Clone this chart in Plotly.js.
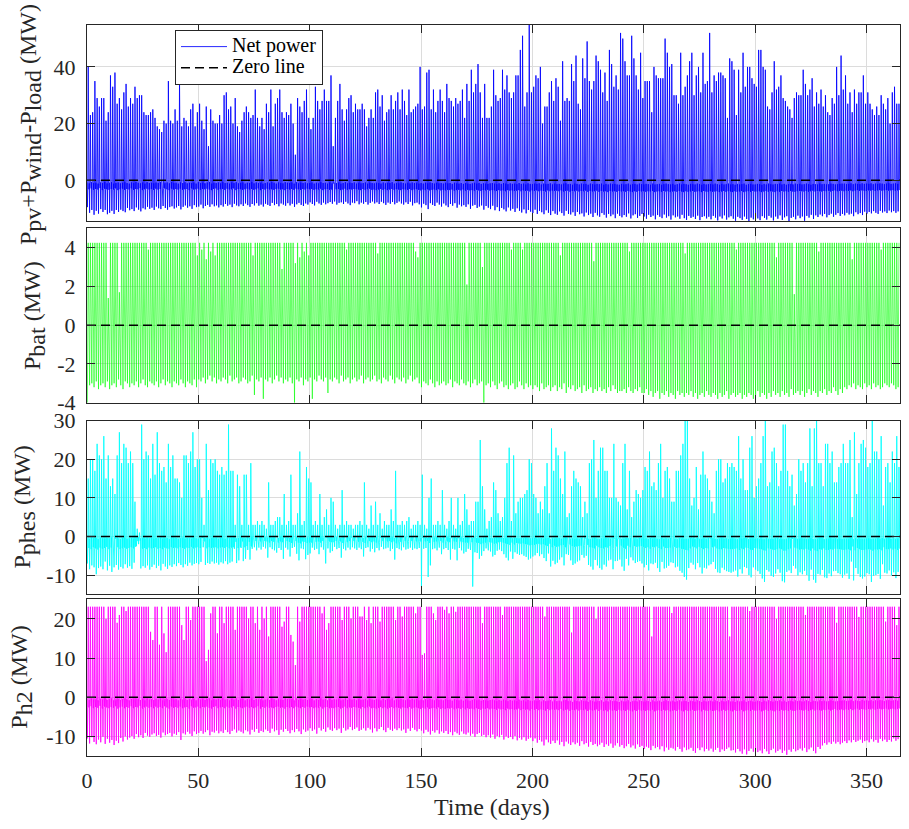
<!DOCTYPE html>
<html>
<head>
<meta charset="utf-8">
<script src="https://cdn.plot.ly/plotly-3.0.1.min.js"></script>
<style>
  html, body { margin: 0; padding: 0; background: #ffffff; }
  #chart { width: 909px; height: 829px; }
</style>
</head>
<body>
<div id="chart"></div>
<script>
// ---------- Data (one value per day, days 0..364) ----------
// Net power P_pv + P_wind - P_load (MW): daily peak, daily trough, night band upper / lower level
const netPeak = [
  40,23,24,35,29,26,29,29,21,24,
  37,33,38,27,29,25,31,34,26,29,
  27,33,29,30,30,24,23,23,24,25,
  22,19,18,17,21,20,35,21,20,25,
  21,35,19,22,21,19,25,27,19,24,
  27,21,18,26,12,25,21,20,20,23,
  20,30,31,25,26,20,29,19,17,21,
  24,26,24,22,23,32,22,19,22,18,
  27,24,32,19,27,29,32,24,22,24,
  23,27,20,9,29,26,24,28,32,22,
  18,22,33,28,25,28,32,28,28,37,
  12,22,28,34,25,21,25,29,30,24,
  27,25,25,27,25,19,22,25,22,31,
  32,26,30,21,24,25,30,25,28,31,
  25,32,28,23,32,24,25,26,27,40,
  25,26,38,39,25,32,24,28,32,28,
  24,34,29,28,26,29,27,28,32,22,
  34,28,39,31,34,41,31,22,34,22,
  22,26,39,30,28,29,39,32,37,31,
  29,31,37,37,46,51,26,31,55,31,
  33,37,36,40,20,26,26,31,35,28,
  36,33,21,42,28,29,28,41,35,44,
  27,25,43,36,49,35,32,35,44,42,
  39,31,38,28,46,41,33,37,32,52,
  50,42,37,37,51,43,37,32,45,29,
  35,35,35,24,40,37,36,36,36,50,
  45,40,41,30,30,27,45,30,33,37,
  42,45,30,37,40,31,45,34,35,52,
  31,37,35,38,38,37,36,22,43,42,
  39,23,39,31,45,33,40,40,36,34,
  33,46,46,40,39,26,25,31,42,32,
  33,37,29,28,26,25,22,29,31,30,
  30,39,34,30,32,36,26,31,27,32,
  26,30,24,23,29,27,40,30,44,32,
  37,27,31,24,32,27,31,31,37,27,
  31,27,25,23,26,23,30,27,25,29,
  20,31,33,27,27
];
const netTrough = [
  -9.5,-11.5,-10.5,-12.2,-10.8,-11.8,-10.2,-11.2,-10.5,-12,
  -11.5,-10.8,-11.9,-10.5,-11.2,-10.4,-10.9,-11.3,-9.8,-10.6,
  -10.2,-10.9,-9.6,-10.4,-11,-9.9,-10.3,-9.4,-10.1,-9.7,
  -10.5,-9.3,-9.9,-10.2,-9.1,-9.8,-10.4,-9.5,-9.2,-10,
  -9.6,-9.1,-10.3,-9.4,-8.9,-9.7,-9.2,-10.1,-8.8,-9.5,
  -9.3,-8.6,-9.9,-9.1,-8.7,-9.4,-8.5,-9.2,-8.9,-9.6,
  -8.8,-9.3,-8.4,-9,-8.6,-9.5,-8.3,-8.9,-9.2,-8.5,
  -9.1,-8.2,-8.8,-9.4,-8.4,-8.9,-8.1,-9,-8.6,-9.3,
  -8.3,-8.7,-9.1,-8,-8.8,-8.4,-9.2,-8.2,-8.6,-9,
  -8.1,-8.9,-8.3,-9.4,-8.5,-8,-8.7,-9.1,-8.2,-8.6,
  -7.8,-8.4,-8.9,-7.6,-8.2,-8.7,-7.9,-8.5,-8.1,-7.7,
  -8.3,-7.5,-8.6,-8,-7.8,-8.4,-7.6,-8.2,-8.8,-7.9,
  -8.1,-7.4,-8.5,-7.9,-8.3,-7.7,-8.6,-8,-7.5,-8.2,
  -7.8,-8.4,-7.6,-8.1,-8.7,-7.9,-8.3,-7.7,-8.5,-8,
  -7.5,-8.2,-8.6,-7.8,-8.4,-7.6,-8.9,-8.1,-7.9,-8.5,
  -9.6,-8.3,-8.8,-10.2,-8.1,-8.7,-9.1,-7.9,-8.6,-9.3,
  -8.2,-8.9,-9.5,-8.4,-9,-8.1,-9.7,-8.6,-9.2,-8.8,
  -9.4,-8.5,-10.1,-9,-8.7,-9.8,-9.3,-8.9,-10.4,-9.1,
  -9.7,-10.2,-9,-10.6,-9.5,-10.9,-9.8,-10.3,-11,-9.6,
  -10.7,-10.1,-11.2,-9.9,-10.8,-11.4,-10.3,-11.7,-10.5,-11.1,
  -11.6,-10.4,-11.9,-10.8,-11.3,-12,-10.6,-11.5,-12.3,-10.9,
  -11.8,-12.2,-11,-11.6,-12.5,-10.8,-11.9,-12.1,-11.3,-12.6,
  -11.2,-12,-11.7,-12.8,-11.4,-12.3,-11.8,-13,-11.5,-12.4,
  -12.9,-11.6,-12.2,-13.2,-11.9,-12.7,-12.1,-13.4,-11.8,-12.6,
  -13.1,-12.3,-12.9,-11.7,-13.5,-12.4,-12,-13.3,-12.6,-11.9,
  -12.8,-13.6,-12.2,-13,-12.5,-13.8,-12.3,-12.9,-13.4,-12.1,
  -13.2,-12.7,-13.9,-12.4,-13.1,-12.8,-13.6,-12.2,-13.4,-14,
  -12.6,-13.3,-12.9,-13.7,-12.5,-14.1,-13,-12.7,-13.5,-12.9,
  -13.8,-12.6,-13.2,-14.2,-12.8,-13.5,-12.4,-13.9,-13.1,-12.7,
  -13.6,-14.3,-12.9,-13.4,-14,-12.8,-13.7,-14.4,-13.2,-13.8,
  -12.9,-13.5,-14.1,-12.7,-13.3,-13.9,-12.6,-13.2,-14.2,-12.8,
  -13.6,-12.4,-14,-13.1,-12.7,-14.4,-13.3,-12.9,-13.8,-12.5,
  -13.4,-12.8,-14.3,-12.6,-13.2,-12.2,-13.7,-12.4,-13,-12.1,
  -12.7,-11.9,-13.1,-12.3,-11.8,-12.9,-12.2,-11.6,-12.6,-11.9,
  -12.4,-11.5,-12.1,-11.8,-12.7,-11.3,-12,-11.6,-12.3,-11.1,
  -11.8,-11.2,-11.7,-10.9,-11.5,-11.9,-10.8,-11.4,-11,-11.6,
  -10.7,-11.3,-10.9,-11.5,-11
];
const netHi = [
  -0.8,-1.1,-0.7,-1,-0.9,-1.2,-0.8,-1,-0.6,-1.1,
  -0.9,-0.7,-1.2,-1,-0.8,-1.1,-0.9,-0.7,-1,-1.2,
  -0.8,-1,-0.6,-0.9,-1.1,-0.8,-1.2,-0.7,-1,-0.9,
  -1.1,-0.8,-1,-0.7,-1.2,-0.9,-0.8,-1.1,-0.6,-1,
  -0.9,-1.2,-0.8,-1,-0.7,-1.1,-0.9,-1,-0.8,-1.2,
  -0.7,-1,-0.9,-1.1,-0.8,-0.6,-1.2,-0.9,-1,-0.8,
  -1.1,-0.7,-1,-0.9,-1.2,-0.8,-1,-0.7,-1.1,-0.9,
  -0.8,-1.2,-0.9,-1,-0.6,-1.1,-0.8,-1,-0.9,-1.2,
  -1,-0.8,-1.1,-0.7,-0.9,-1.2,-0.8,-1,-1.1,-0.7,
  -0.9,-1,-0.8,-1.2,-0.7,-1.1,-0.9,-1,-0.8,-1.1,
  -1,-0.8,-1.2,-0.9,-1.1,-0.7,-1,-0.9,-1.2,-0.8,
  -1.1,-0.9,-1,-0.8,-1.2,-1,-0.7,-1.1,-0.9,-1,
  -0.8,-1.2,-0.9,-1.1,-1,-0.8,-1.2,-0.9,-1,-1.1,
  -0.9,-1,-1.2,-0.8,-1.1,-0.9,-1,-0.7,-1.2,-1,
  -1.1,-0.8,-1,-1.2,-0.9,-1.1,-0.8,-1,-0.9,-1.2,
  -1,-1.2,-0.9,-1.1,-0.8,-1,-1.2,-0.9,-1.1,-1,
  -1.2,-0.9,-1.1,-1,-1.3,-0.9,-1.1,-1.2,-1,-1.3,
  -1,-1.2,-1.3,-1.1,-0.9,-1.2,-1,-1.3,-1.1,-1.2,
  -1.3,-1.1,-1,-1.2,-1.4,-1.1,-1.3,-1,-1.2,-1.4,
  -1.1,-1.3,-1.2,-1.4,-1,-1.3,-1.2,-1.5,-1.1,-1.3,
  -1.4,-1.2,-1.3,-1.1,-1.5,-1.2,-1.4,-1.3,-1.1,-1.5,
  -1.2,-1.4,-1.3,-1.5,-1.2,-1.1,-1.4,-1.3,-1.6,-1.2,
  -1.3,-1.5,-1.2,-1.4,-1.3,-1.6,-1.2,-1.4,-1.5,-1.3,
  -1.4,-1.2,-1.6,-1.3,-1.5,-1.2,-1.4,-1.3,-1.5,-1.6,
  -1.3,-1.5,-1.4,-1.2,-1.6,-1.4,-1.3,-1.5,-1.2,-1.4,
  -1.5,-1.3,-1.4,-1.6,-1.2,-1.5,-1.4,-1.3,-1.6,-1.4,
  -1.2,-1.4,-1.5,-1.3,-1.6,-1.4,-1.2,-1.5,-1.3,-1.4,
  -1.6,-1.3,-1.4,-1.5,-1.2,-1.4,-1.6,-1.3,-1.5,-1.4,
  -1.3,-1.5,-1.2,-1.4,-1.6,-1.3,-1.5,-1.4,-1.2,-1.5,
  -1.4,-1.6,-1.3,-1.5,-1.4,-1.2,-1.6,-1.4,-1.3,-1.5,
  -1.5,-1.3,-1.4,-1.6,-1.3,-1.5,-1.2,-1.4,-1.5,-1.3,
  -1.4,-1.2,-1.5,-1.3,-1.6,-1.4,-1.3,-1.5,-1.2,-1.4,
  -1.3,-1.5,-1.4,-1.2,-1.4,-1.6,-1.3,-1.4,-1.5,-1.2,
  -1.4,-1.3,-1.5,-1.4,-1.2,-1.3,-1.5,-1.4,-1.3,-1.2,
  -1.2,-1.4,-1.3,-1.1,-1.4,-1.2,-1.3,-1.4,-1.1,-1.3,
  -1.2,-1.3,-1.1,-1.4,-1.2,-1.3,-1.1,-1.2,-1.4,-1.2,
  -1.1,-1.3,-1.2,-1.1,-1.3
];
const netLo = [
  -3.2,-2.9,-3.4,-3.1,-3.3,-2.8,-3.5,-3,-3.2,-3.4,
  -3.1,-3.3,-2.9,-3.5,-3.2,-3,-3.4,-3.1,-3.3,-2.9,
  -3.4,-3.1,-3.2,-2.8,-3.5,-3.2,-3,-3.3,-3.1,-3.4,
  -3,-3.3,-3.1,-3.4,-2.9,-3.2,-3.5,-3,-3.3,-3.1,
  -3.3,-3,-3.4,-3.2,-3.1,-3.5,-2.9,-3.3,-3.2,-3,
  -3.4,-3.1,-3.2,-3,-3.3,-3.5,-3.1,-2.9,-3.4,-3.2,
  -3.1,-3.4,-3,-3.3,-3.2,-2.9,-3.5,-3.1,-3.2,-3.4,
  -3.2,-3,-3.3,-3.1,-3.4,-3.2,-2.9,-3.5,-3.1,-3.3,
  -3,-3.3,-3.2,-3.4,-3.1,-3,-3.3,-3.2,-3.5,-3.1,
  -3.3,-3.1,-3.4,-3,-3.2,-3.4,-3.1,-3.3,-3,-3.2,
  -3.1,-3.4,-3.2,-3.3,-3,-3.5,-3.2,-3.1,-3.4,-3.3,
  -3.4,-3.2,-3.1,-3.5,-3.3,-3,-3.4,-3.2,-3.3,-3.1,
  -3.2,-3.3,-3.5,-3.1,-3.4,-3.2,-3,-3.4,-3.3,-3.5,
  -3.3,-3.1,-3.4,-3.2,-3.5,-3.3,-3.1,-3.4,-3.2,-3.3,
  -3.5,-3.2,-3.3,-3.4,-3.1,-3.5,-3.3,-3.2,-3.4,-3.6,
  -3.3,-3.5,-3.2,-3.6,-3.4,-3.3,-3.5,-3.2,-3.6,-3.4,
  -3.6,-3.4,-3.5,-3.3,-3.7,-3.5,-3.4,-3.6,-3.3,-3.7,
  -3.4,-3.6,-3.5,-3.7,-3.4,-3.6,-3.8,-3.5,-3.6,-3.4,
  -3.7,-3.5,-3.6,-3.8,-3.5,-3.7,-3.6,-3.9,-3.5,-3.7,
  -3.6,-3.8,-3.7,-3.5,-3.9,-3.6,-3.8,-3.7,-4,-3.6,
  -3.8,-3.6,-3.9,-3.7,-3.8,-4,-3.6,-3.9,-3.7,-3.8,
  -3.7,-3.9,-3.6,-4,-3.8,-3.7,-4.1,-3.8,-3.9,-3.7,
  -4,-3.8,-3.9,-3.7,-4.1,-3.8,-4,-3.9,-3.7,-4.1,
  -3.8,-4,-3.9,-4.2,-3.8,-4,-3.9,-4.1,-3.8,-4,
  -3.9,-4.1,-3.8,-4,-4.2,-3.9,-4.1,-3.8,-4,-3.9,
  -4.1,-3.9,-4,-3.8,-4.2,-4,-3.9,-4.1,-3.8,-4,
  -3.9,-4.2,-4,-3.9,-4.1,-3.8,-4,-4.2,-3.9,-4.1,
  -4,-3.8,-4.1,-4,-3.9,-4.2,-3.8,-4,-4.1,-3.9,
  -4.1,-4,-3.9,-4.2,-4,-3.8,-4.1,-3.9,-4,-4.2,
  -3.9,-4.1,-4,-3.8,-4.2,-4,-3.9,-4.1,-3.8,-4,
  -4,-3.9,-4.2,-4,-3.8,-4.1,-3.9,-4,-4.2,-3.9,
  -4.1,-3.8,-4,-3.9,-4.1,-3.8,-4,-4.1,-3.9,-3.8,
  -3.9,-4,-3.8,-4.1,-3.9,-3.7,-4,-3.8,-3.9,-4,
  -3.8,-3.9,-3.7,-4,-3.8,-3.6,-3.9,-3.8,-3.7,-3.9,
  -3.7,-3.8,-3.6,-3.9,-3.7,-3.5,-3.8,-3.6,-3.7,-3.8,
  -3.6,-3.7,-3.5,-3.8,-3.6,-3.5,-3.7,-3.6,-3.5,-3.7,
  -3.6,-3.5,-3.7,-3.6,-3.5
];

// Battery power P_bat (MW): daily charging peak and discharging trough
const batPeak = [
  4.25,4.25,4.25,4.25,4.25,4.25,4.25,4.25,4.25,1.4,
  4.25,4.25,4.25,4.25,1.7,4.25,4.25,4.25,4.25,4.25,
  4.25,4.25,4.25,4.25,4.25,4.25,4.25,3.9,4.25,4.25,
  4.25,4.25,4.25,4.25,4.25,4.25,4.25,4.25,4.25,4.25,
  4.25,4.25,4.25,4.25,4.25,4.25,4.25,4.25,4.25,3.6,
  4.25,3.9,4.25,3.4,4.25,3.8,4.25,3.6,4.25,4.25,
  4.25,4.25,4.25,4.25,4.25,4.25,4.25,4.25,4.25,4.25,
  4.25,4.25,4.25,4.25,3.6,4.25,4.25,4.25,4.25,4.25,
  4.25,4.25,4.25,4.25,4.25,4.25,4.25,2.9,4.25,4.25,
  4.25,4.25,4.25,3.2,4.25,3.5,4.25,3.8,4.25,3.6,
  4.25,4.25,4.25,4.25,4.25,4.25,4.25,4.25,4.25,4.25,
  4.25,4.25,4.25,4.25,4.25,4.25,3.9,4.25,4.25,4.25,
  4.25,4.25,4.25,4.25,4.25,4.25,4.25,4.25,4.25,4.25,
  3.7,4.25,4.25,4.25,4.25,4.25,4.25,4.25,4.25,4.25,
  4.25,4.25,4.25,4.25,4.25,4.25,4.25,3.8,3.5,4.25,
  4.25,4.25,4.25,4.25,4.25,4.25,4.25,4.25,4.25,4.25,
  4.25,4.25,4.25,4.25,4.25,4.25,4.25,4.25,4.25,4.25,
  2.1,4.25,4.25,4.25,4.25,4.25,4.25,3.0,4.25,4.25,
  4.25,4.25,4.25,4.25,4.25,4.25,4.25,4.25,4.25,4.25,
  3.9,4.25,4.25,4.25,4.25,3.9,4.25,4.25,4.25,4.25,
  4.25,4.25,4.25,4.25,4.25,4.25,4.25,4.25,4.25,4.25,
  4.25,4.25,3.6,4.25,4.25,4.25,4.25,4.25,4.25,4.25,
  4.25,4.25,4.25,4.25,4.25,4.25,4.25,3.3,4.25,4.25,
  4.25,4.25,4.25,4.25,4.25,4.25,4.25,4.25,4.25,4.25,
  4.25,4.25,4.25,3.8,4.25,4.25,4.25,4.25,4.25,4.25,
  4.25,4.25,4.25,4.25,4.25,4.25,4.25,4.25,4.25,4.25,
  4.25,4.25,4.25,4.25,4.25,4.25,4.25,4.25,3.7,4.25,
  4.25,4.25,4.25,4.25,4.25,4.25,4.25,4.25,4.25,4.25,
  4.25,4.25,4.25,4.25,4.25,4.25,4.25,4.25,4.25,4.25,
  4.25,3.9,4.25,4.25,4.25,4.25,4.25,4.25,4.25,4.25,
  4.25,4.25,4.25,4.25,4.25,4.25,4.25,4.25,4.25,3.5,
  4.25,4.25,4.25,4.25,4.25,4.25,4.25,1.6,4.25,4.25,
  4.25,4.25,4.25,4.25,4.25,4.25,4.25,4.25,3.8,4.25,
  4.25,4.25,4.25,4.25,4.25,4.25,4.25,4.25,4.25,4.25,
  4.25,4.25,4.25,3.4,4.25,4.25,4.25,4.25,4.25,4.25,
  4.25,4.25,4.25,4.25,4.25,4.25,3.9,4.25,4.25,4.25,
  4.25,4.25,4.25,4.25,4.25
];
const batTrough = [
  -4,-3.1,-3,-3.2,-2.9,-3.3,-3.1,-3,-3.2,-2.9,
  -3.3,-3.1,-3,-3.2,-2.8,-3.1,-3.3,-2.9,-3,-3.2,
  -3,-3.1,-2.9,-3.2,-3,-2.8,-3.1,-3.2,-2.9,-3,
  -3.1,-2.9,-3.2,-3,-2.8,-3.1,-2.9,-3,-3.2,-2.9,
  -3,-3.1,-2.8,-3,-3.2,-2.9,-3,-3.1,-2.8,-3.2,
  -2.8,-2.9,-2.7,-3,-2.8,-2.6,-2.9,-2.7,-3,-2.8,
  -2.9,-2.7,-2.8,-3,-2.6,-2.9,-2.8,-2.7,-3,-2.9,
  -2.7,-2.8,-3,-2.9,-2.6,-3.6,-2.8,-2.9,-2.7,-3.8,
  -2.8,-2.9,-2.7,-3,-2.8,-2.6,-2.9,-2.7,-3,-2.8,
  -2.9,-2.7,-3,-4,-2.8,-2.9,-2.7,-3.1,-2.8,-2.9,
  -2.7,-3.8,-2.8,-2.9,-2.6,-2.8,-2.9,-2.7,-3.5,-2.8,
  -2.9,-2.7,-2.8,-3,-2.6,-2.9,-2.8,-2.7,-3,-2.8,
  -2.7,-2.9,-2.8,-2.6,-3,-2.8,-2.7,-2.9,-2.8,-2.6,
  -2.9,-2.8,-3,-2.7,-2.8,-2.9,-2.6,-2.8,-3,-2.7,
  -2.8,-2.9,-2.7,-3,-2.8,-2.6,-2.9,-2.8,-2.7,-3,
  -3.2,-2.9,-3,-3.1,-2.8,-3,-3.2,-2.9,-3.1,-3,
  -2.9,-3.1,-3,-2.8,-3.2,-2.9,-3,-3.1,-2.8,-3,
  -3.1,-2.9,-3.2,-3,-2.8,-3.1,-3,-2.9,-4,-3.1,
  -3,-3.2,-2.9,-3.1,-3.3,-3,-2.9,-3.2,-3.1,-3.3,
  -3.1,-3,-3.3,-3.2,-2.9,-3.1,-3.3,-3,-3.2,-3.1,
  -3.3,-3.1,-3.2,-3.4,-3,-3.3,-3.2,-3.1,-3.4,-3.2,
  -3.1,-3.4,-3.2,-3.3,-3,-3.5,-3.2,-3.3,-3.1,-3.4,
  -3.3,-3.2,-3.5,-3.1,-3.4,-3.3,-3.2,-3.5,-3.3,-3.4,
  -3.2,-3.4,-3.3,-3.5,-3.2,-3.4,-3.1,-3.3,-3.5,-3.4,
  -3.4,-3.3,-3.5,-3.2,-3.4,-3.5,-3.3,-3.4,-3.2,-3.5,
  -3.5,-3.3,-3.6,-3.4,-3.7,-3.5,-3.4,-3.8,-3.5,-3.6,
  -3.4,-3.7,-3.5,-3.6,-3.8,-3.4,-3.6,-3.5,-3.7,-3.5,
  -3.6,-3.4,-3.7,-3.5,-3.8,-3.6,-3.5,-3.7,-3.4,-3.6,
  -3.7,-3.5,-3.6,-3.8,-3.5,-3.7,-3.6,-3.4,-3.8,-3.6,
  -3.5,-3.7,-3.6,-3.5,-3.8,-3.6,-3.7,-3.5,-3.6,-3.8,
  -3.6,-3.4,-3.7,-3.5,-3.6,-3.8,-3.5,-3.7,-3.4,-3.6,
  -3.5,-3.7,-3.4,-3.6,-3.5,-3.7,-3.3,-3.6,-3.5,-3.4,
  -3.6,-3.4,-3.7,-3.5,-3.3,-3.6,-3.4,-3.5,-3.7,-3.4,
  -3.5,-3.3,-3.6,-3.4,-3.5,-3.2,-3.4,-3.6,-3.3,-3.5,
  -3.2,-3.3,-3.1,-3.2,-3,-3.3,-3.1,-3.2,-3.3,-3,
  -3.2,-3.1,-3.3,-3,-3.2,-3.1,-3.3,-3.2,-3,-3.1,
  -3.2,-3,-3.1,-3.3,-3.2
];

// Pumped hydro power P_phes (MW): daily peak, trough, band upper / lower level
const phesPeak = [
  15,20,20,17,24,21,20,26,15,21,
  13,15,11,21,27,19,24,23,19,22,
  19,9,2,1,29,20,22,21,15,24,
  16,27,19,17,18,14,24,18,21,15,
  15,14,10,21,21,19,22,27,18,20,
  20,10,3,24,12,20,19,20,17,16,
  18,16,17,29,17,17,3,16,13,3,
  16,16,3,19,3,3,4,3,4,3,
  2,14,3,3,4,5,5,3,11,3,
  4,16,3,3,6,22,3,4,18,15,
  14,3,4,3,11,3,5,7,3,10,
  9,3,2,3,12,3,4,3,3,2,
  3,3,4,3,14,3,2,8,3,9,
  3,6,2,4,3,3,7,4,17,3,
  3,4,3,4,5,2,3,3,4,3,
  16,3,2,10,15,3,3,4,3,12,
  3,2,4,10,3,2,10,3,4,11,
  7,3,4,4,9,9,25,13,7,2,
  4,5,14,12,6,4,5,10,19,23,
  4,21,6,9,10,10,11,12,20,19,
  11,10,6,9,7,13,19,6,28,17,
  23,21,15,11,22,5,6,13,17,15,
  14,13,5,9,6,19,20,25,10,17,
  23,23,17,17,10,10,24,10,9,8,
  19,24,7,17,5,9,12,11,10,12,
  18,17,22,13,14,12,19,24,10,17,
  18,15,9,9,17,17,21,24,30,30,
  15,8,10,18,7,16,22,16,15,12,
  9,6,17,20,20,14,15,19,18,19,
  18,17,26,15,20,12,12,23,26,10,
  13,15,19,26,30,13,14,22,23,19,
  13,17,29,29,17,13,16,8,11,20,
  17,19,14,19,28,13,28,30,19,19,
  13,24,24,19,22,14,14,18,19,24,
  19,19,25,5,27,11,19,24,25,23,
  18,19,30,22,22,20,26,8,18,19,
  14,22,19,26,18
];
const phesTrough = [
  -7,-8.5,-7.5,-8,-9.8,-8.2,-7.8,-8.5,-6.5,-8.8,
  -7.6,-9.2,-8,-7.4,-8.6,-7.9,-8.3,-7.2,-8.1,-7.7,
  -8.4,-6.8,-2.5,-2,-8.3,-7.7,-8.1,-7.5,-8.6,-7.9,
  -7.3,-8.2,-7.6,-8.8,-7.1,-7.8,-8.4,-7.5,-7.9,-7.2,
  -7.7,-6.9,-7.4,-8,-7.2,-7.6,-6.8,-7.5,-7.1,-6.9,
  -7.2,-6.6,-2.8,-7.4,-6.9,-7.1,-6.5,-7,-6.8,-7.3,
  -6.7,-7,-6.4,-7.2,-6.8,-6.5,-3.2,-6.9,-6.2,-3,
  -6.4,-5.8,-3.5,-6,-3.2,-2.8,-3.6,-2.9,-3.4,-2.7,
  -3.1,-5.5,-2.8,-3.3,-3.6,-4.2,-3,-3.5,-5.8,-2.9,
  -3.4,-5.2,-3,-2.7,-4.5,-6.2,-3.1,-3.3,-5.9,-4.8,
  -4.4,-2.9,-3.5,-3.2,-4.6,-2.8,-3.4,-7,-3.1,-4.2,
  -3.8,-2.7,-3.3,-3,-5.5,-3.2,-3.6,-2.9,-3.4,-2.8,
  -3.1,-3.5,-2.9,-3.3,-5.2,-3,-2.8,-3.9,-3.2,-4.1,
  -3,-3.6,-2.7,-3.3,-3.1,-2.9,-3.8,-3.2,-6,-3,
  -3.3,-3.6,-2.8,-3.4,-3.2,-2.9,-3.5,-3.1,-3.3,-3,
  -13,-3.2,-3,-10.5,-7.5,-3.3,-3.1,-3.6,-2.9,-4.6,
  -3.3,-3,-3.5,-6,-3.2,-3.4,-6.2,-3,-3.6,-4.4,
  -4,-3.2,-3.5,-13,-4.1,-4.3,-5.8,-5,-3.8,-3.1,
  -3.6,-3.9,-5.2,-4.8,-3.7,-3.4,-3.8,-4.6,-5.5,-6.2,
  -3.9,-5.8,-4.1,-4.5,-4.8,-4.6,-5,-5.3,-6,-5.7,
  -5.2,-4.9,-4.3,-5.1,-4.6,-5.6,-6.4,-4.4,-7.8,-6.3,
  -7.2,-6.8,-6,-5.4,-7.5,-4.6,-4.8,-6.2,-7.4,-7,
  -6.5,-6.2,-4.8,-5.5,-5,-7.4,-7.8,-8.6,-6.1,-7.5,
  -8.2,-8.6,-7.3,-7.8,-6.2,-6,-8.5,-6.4,-6.3,-6,
  -7.8,-8.9,-5.8,-7.5,-5.4,-6.2,-6.9,-6.6,-6.4,-7,
  -8,-7.4,-8.8,-7,-7.2,-6.8,-8.2,-9.2,-6.6,-8.3,
  -8.1,-7.6,-6.7,-6.9,-8,-7.8,-8.9,-9.4,-10.5,-11.2,
  -8.2,-6.8,-7.3,-8.5,-6.9,-8,-9.6,-8.1,-8.3,-7.5,
  -7.2,-6.6,-8.4,-9.3,-9.5,-8.1,-8.6,-9,-9.2,-9.4,
  -9.1,-8.8,-10.4,-8.5,-9.6,-7.9,-8.2,-10,-10.6,-8,
  -8.6,-9,-9.7,-10.9,-11.8,-8.7,-9.1,-10.2,-10.5,-9.6,
  -8.5,-9.4,-11.6,-11.9,-9.2,-8.8,-9.5,-7.6,-8.3,-10.1,
  -9.3,-9.8,-8.9,-10,-11.5,-8.6,-11.2,-12,-9.7,-9.9,
  -8.7,-10.6,-10.8,-9.6,-10.3,-9,-8.9,-9.5,-9.8,-10.7,
  -9.9,-9.6,-11,-6.5,-11.4,-8.2,-9.7,-10.5,-10.9,-10.4,
  -9.5,-9.8,-11.8,-10.2,-10,-9.7,-11,-7.2,-9.4,-9.6,
  -8.8,-10.1,-9.3,-10.8,-9.2
];
const phesHi = [
  -0.4,-0.6,-0.3,-0.5,-0.4,-0.7,-0.3,-0.5,-0.6,-0.4,
  -0.5,-0.3,-0.6,-0.4,-0.5,-0.7,-0.4,-0.3,-0.6,-0.5,
  -0.4,-0.6,-0.2,-0.2,-0.5,-0.4,-0.6,-0.3,-0.5,-0.4,
  -0.6,-0.4,-0.5,-0.3,-0.6,-0.5,-0.4,-0.7,-0.3,-0.5,
  -0.4,-0.6,-0.5,-0.3,-0.6,-0.4,-0.5,-0.6,-0.3,-0.5,
  -0.6,-0.4,-0.2,-0.5,-0.3,-0.6,-0.4,-0.5,-0.3,-0.6,
  -0.4,-0.5,-0.6,-0.3,-0.5,-0.4,-0.2,-0.5,-0.4,-0.2,
  -0.4,-0.5,-0.2,-0.4,-0.2,-0.3,-0.2,-0.3,-0.2,-0.3,
  -0.2,-0.3,-0.2,-0.3,-0.2,-0.3,-0.4,-0.2,-0.3,-0.2,
  -0.3,-0.4,-0.2,-0.3,-0.2,-0.4,-0.3,-0.2,-0.4,-0.3,
  -0.3,-0.2,-0.3,-0.2,-0.3,-0.2,-0.3,-0.4,-0.2,-0.3,
  -0.3,-0.2,-0.2,-0.3,-0.4,-0.2,-0.3,-0.2,-0.3,-0.2,
  -0.2,-0.3,-0.2,-0.3,-0.4,-0.2,-0.3,-0.3,-0.2,-0.3,
  -0.2,-0.3,-0.2,-0.3,-0.2,-0.2,-0.3,-0.2,-0.4,-0.2,
  -0.3,-0.2,-0.3,-0.2,-0.3,-0.2,-0.2,-0.3,-0.2,-0.3,
  -0.4,-0.2,-0.3,-0.4,-0.3,-0.2,-0.3,-0.2,-0.3,-0.4,
  -0.2,-0.3,-0.2,-0.4,-0.3,-0.2,-0.4,-0.3,-0.2,-0.4,
  -0.3,-0.2,-0.3,-0.4,-0.3,-0.4,-0.5,-0.4,-0.3,-0.2,
  -0.3,-0.4,-0.5,-0.4,-0.3,-0.3,-0.4,-0.4,-0.5,-0.5,
  -0.3,-0.5,-0.4,-0.4,-0.5,-0.4,-0.5,-0.4,-0.5,-0.5,
  -0.5,-0.4,-0.6,-0.5,-0.4,-0.6,-0.5,-0.4,-0.7,-0.5,
  -0.6,-0.5,-0.4,-0.6,-0.5,-0.3,-0.4,-0.6,-0.5,-0.7,
  -0.5,-0.6,-0.4,-0.5,-0.4,-0.6,-0.7,-0.5,-0.4,-0.6,
  -0.7,-0.5,-0.6,-0.4,-0.5,-0.6,-0.5,-0.4,-0.6,-0.5,
  -0.6,-0.7,-0.4,-0.5,-0.4,-0.6,-0.5,-0.6,-0.4,-0.5,
  -0.6,-0.5,-0.7,-0.4,-0.6,-0.5,-0.6,-0.7,-0.4,-0.6,
  -0.5,-0.6,-0.4,-0.5,-0.6,-0.7,-0.5,-0.6,-0.7,-0.6,
  -0.6,-0.4,-0.5,-0.6,-0.4,-0.6,-0.7,-0.5,-0.6,-0.5,
  -0.4,-0.5,-0.6,-0.7,-0.6,-0.5,-0.6,-0.5,-0.7,-0.6,
  -0.5,-0.6,-0.7,-0.5,-0.6,-0.4,-0.5,-0.7,-0.6,-0.5,
  -0.6,-0.5,-0.6,-0.7,-0.7,-0.5,-0.6,-0.6,-0.7,-0.5,
  -0.5,-0.6,-0.7,-0.7,-0.6,-0.5,-0.6,-0.4,-0.5,-0.6,
  -0.6,-0.5,-0.6,-0.6,-0.7,-0.5,-0.7,-0.7,-0.6,-0.5,
  -0.5,-0.7,-0.6,-0.6,-0.5,-0.6,-0.5,-0.6,-0.6,-0.7,
  -0.6,-0.6,-0.7,-0.4,-0.7,-0.5,-0.6,-0.7,-0.6,-0.6,
  -0.6,-0.5,-0.7,-0.6,-0.6,-0.5,-0.7,-0.4,-0.6,-0.5,
  -0.5,-0.6,-0.5,-0.7,-0.6
];
const phesLo = [
  -3,-3.3,-2.8,-3.1,-3.4,-2.9,-3.2,-3,-2.7,-3.3,
  -2.9,-3.2,-3,-2.8,-3.3,-3.1,-2.9,-3.2,-3,-2.8,
  -3.1,-2.7,-1.2,-1.1,-3.2,-3,-3.3,-2.9,-3.1,-3,
  -2.8,-3.2,-3,-3.3,-2.9,-3.1,-3.2,-2.8,-3,-2.9,
  -3.1,-2.8,-3,-3.2,-2.9,-3,-2.7,-3.1,-2.9,-2.8,
  -3,-2.7,-1.3,-3.1,-2.8,-3,-2.9,-2.8,-3.1,-2.9,
  -2.8,-3,-2.7,-3.1,-2.9,-2.8,-1.4,-3,-2.7,-1.3,
  -2.8,-2.5,-1.4,-2.6,-1.3,-1.2,-1.5,-1.3,-1.4,-1.2,
  -1.3,-1.6,-1.2,-1.4,-1.5,-1.6,-1.3,-1.5,-1.8,-1.2,
  -1.4,-1.7,-1.3,-1.2,-1.6,-1.8,-1.3,-1.4,-1.7,-1.6,
  -1.6,-1.3,-1.4,-1.3,-1.6,-1.2,-1.5,-1.8,-1.3,-1.5,
  -1.5,-1.2,-1.4,-1.3,-1.7,-1.3,-1.5,-1.2,-1.4,-1.2,
  -1.3,-1.4,-1.2,-1.4,-1.7,-1.3,-1.2,-1.5,-1.3,-1.6,
  -1.3,-1.5,-1.2,-1.4,-1.3,-1.2,-1.5,-1.3,-1.8,-1.2,
  -1.4,-1.5,-1.2,-1.4,-1.3,-1.2,-1.4,-1.3,-1.4,-1.3,
  -1.8,-1.3,-1.2,-1.7,-1.8,-1.4,-1.3,-1.5,-1.2,-1.6,
  -1.4,-1.3,-1.5,-1.7,-1.3,-1.4,-1.7,-1.3,-1.5,-1.6,
  -1.6,-1.4,-1.5,-1.9,-1.6,-1.7,-2,-1.8,-1.6,-1.3,
  -1.5,-1.6,-1.9,-1.8,-1.5,-1.4,-1.6,-1.8,-2,-2.2,
  -1.6,-2.1,-1.7,-1.8,-1.9,-1.8,-2,-2.1,-2.3,-2.2,
  -2.2,-2,-1.9,-2.1,-2,-2.3,-2.5,-1.9,-2.8,-2.4,
  -2.7,-2.6,-2.3,-2.2,-2.8,-2,-2.1,-2.5,-2.7,-2.6,
  -2.5,-2.4,-2.1,-2.3,-2.2,-2.8,-2.9,-3.1,-2.4,-2.8,
  -3,-3.1,-2.8,-2.9,-2.5,-2.4,-3.1,-2.6,-2.5,-2.4,
  -2.9,-3.2,-2.4,-2.8,-2.3,-2.5,-2.7,-2.6,-2.5,-2.7,
  -3,-2.8,-3.2,-2.7,-2.8,-2.6,-3,-3.3,-2.6,-3,
  -3,-2.9,-2.6,-2.7,-3,-2.9,-3.2,-3.3,-3.5,-3.6,
  -3.1,-2.6,-2.8,-3.1,-2.7,-3,-3.3,-3,-3.1,-2.9,
  -2.8,-2.6,-3.1,-3.3,-3.3,-3,-3.1,-3.2,-3.3,-3.3,
  -3.2,-3.1,-3.5,-3.1,-3.3,-2.9,-3,-3.4,-3.5,-3,
  -3.1,-3.2,-3.3,-3.6,-3.7,-3.1,-3.2,-3.4,-3.5,-3.3,
  -3.1,-3.3,-3.7,-3.7,-3.3,-3.1,-3.3,-2.9,-3.1,-3.4,
  -3.3,-3.4,-3.2,-3.4,-3.7,-3.1,-3.6,-3.8,-3.3,-3.4,
  -3.1,-3.5,-3.5,-3.3,-3.4,-3.2,-3.2,-3.3,-3.4,-3.5,
  -3.4,-3.3,-3.6,-2.6,-3.6,-3,-3.3,-3.5,-3.5,-3.4,
  -3.3,-3.4,-3.7,-3.4,-3.4,-3.3,-3.6,-2.8,-3.3,-3.3,
  -3.1,-3.4,-3.2,-3.5,-3.2
];

// Hydrogen system power P_h2 (MW): daily peak, trough, band upper / lower level
const h2Peak = [
  23.1,23.1,23.1,23.1,23.1,23.1,23.1,23.1,20,23.1,
  23.1,23.1,23.1,19,21,23.1,23.1,22,23.1,23.1,
  23.1,23.1,23.1,23.1,23.1,23.1,23.1,23.1,16.7,14.6,
  23.1,23.1,13.4,23.1,16.3,11.5,23.1,23.1,23.1,23.1,
  23.1,23.1,18.4,14.6,23.1,23.1,19.7,23.1,23.1,23.1,
  23.1,23.1,23.1,9.2,12.1,21.4,23.1,23.1,16.3,23.1,
  23.1,18.9,23.1,23.1,23.1,23.1,17.2,23.1,23.1,23.1,
  23.1,23.1,20.1,23.1,23.1,18.9,23.1,17.2,23.1,20.1,
  23.1,15.5,23.1,23.1,23.1,23.1,23.1,18,19.3,23.1,
  23.1,15.9,14.2,8.2,23.1,19.3,23.1,23.1,23.1,23.1,
  23.1,23.1,23.1,23.1,23.1,21.4,23.1,17.2,18.9,23.1,
  23.1,23.1,23.1,23.1,19.7,23.1,23.1,23.1,20.1,23.1,
  23.1,23.1,20.6,20.6,23.1,19.7,23.1,18.9,23.1,23.1,
  23.1,19.3,23.1,23.1,23.1,23.1,23.1,23.1,19.7,23.1,
  23.1,20.6,23.1,23.1,23.1,23.1,23.1,21.4,23.1,23.1,
  10.8,11.2,23.1,23.1,23.1,21.4,19.7,23.1,23.1,23.1,
  22.3,23.1,21.4,23.1,23.1,21.8,23.1,23.1,23.1,23.1,
  23.1,23.1,23.1,23.1,23.1,23.1,23.1,18.9,23.1,23.1,
  23.1,23.1,23.1,23.1,23.1,23.1,21,23.1,23.1,23.1,
  23.1,23.1,23.1,23.1,23.1,23.1,23.1,23.1,23.1,23.1,
  23.1,23.1,23.1,23.1,23.1,20.6,23.1,23.1,23.1,23.1,
  23.1,23.1,23.1,23.1,23.1,23.1,23.1,16.5,23.1,23.1,
  23.1,23.1,23.1,23.1,23.1,23.1,23.1,23.1,20,23.1,
  23.1,23.1,23.1,23.1,23.1,23.1,23.1,23.1,23.1,23.1,
  23.1,23.1,23.1,23.1,23.1,23.1,23.1,23.1,23.1,23.1,
  23.1,23.1,23.1,15.5,23.1,23.1,23.1,23.1,23.1,23.1,
  23.1,23.1,21.5,23.1,23.1,23.1,23.1,23.1,23.1,23.1,
  23.1,23.1,23.1,23.1,23.1,23.1,23.1,23.1,23.1,23.1,
  23.1,23.1,23.1,23.1,23.1,23.1,23.1,23.1,15.5,23.1,
  23.1,23.1,23.1,23.1,23.1,23.1,23.1,22,23.1,23.1,
  23.1,23.1,23.1,23.1,23.1,23.1,23.1,23.1,23.1,20,
  23.1,23.1,23.1,23.1,23.1,23.1,23.1,23.1,23.1,23.1,
  23.1,23.1,21,23.1,23.1,23.1,23.1,23.1,23.1,23.1,
  23.1,23.1,23.1,23.1,23.1,23.1,19,23.1,23.1,23.1,
  23.1,23.1,23.1,23.1,23.1,23.1,20.5,23.1,23.1,23.1,
  23.1,23.1,23.1,23.1,23.1,23.1,23.1,23.1,19.3,23.1,
  23.1,23.1,23.1,18.4,23.1
];
const h2Trough = [
  -10.5,-11.8,-10.2,-11.4,-12,-10.8,-11.5,-10.1,-11.9,-10.6,
  -11.6,-10.9,-12.2,-11.1,-11.7,-10.4,-11.3,-10,-10.8,-10.3,
  -9.9,-10.6,-9.4,-10.2,-9.7,-10.4,-9.1,-9.8,-10.1,-9.5,
  -9.2,-9.9,-9.6,-10.3,-9,-9.7,-9.4,-9.1,-10,-9.3,
  -9.6,-8.9,-10.9,-9.2,-9.5,-8.8,-9.3,-9.9,-8.7,-9.4,
  -9.1,-8.6,-9.3,-8.9,-8.4,-9.7,-8.8,-9,-8.5,-9.2,
  -8.7,-9.1,-8.3,-8.9,-9.4,-8.6,-8.2,-9,-8.5,-8.8,
  -9.2,-8.4,-8.7,-9.5,-8.3,-8.8,-8.1,-9.1,-8.6,-8.9,
  -8.2,-8.6,-9.1,-8,-8.7,-8.4,-9.6,-8.3,-8.8,-8.1,
  -8.6,-9.2,-8.4,-8.9,-8.1,-8.7,-9.4,-8.2,-8.8,-8.5,
  -7.9,-8.6,-8.2,-9.3,-7.8,-8.5,-8.1,-8.8,-7.7,-8.3,
  -8.6,-7.9,-8.4,-8,-9.1,-7.8,-8.5,-8.2,-7.6,-8.4,
  -8.1,-7.7,-8.6,-8.3,-7.9,-8.5,-7.8,-8.2,-9,-7.9,
  -8.7,-8.1,-7.6,-8.4,-8.9,-7.8,-8.3,-8.6,-8,-8.4,
  -7.9,-8.5,-8.2,-9.1,-8,-8.6,-7.8,-8.3,-8.7,-8.1,
  -8.5,-9.2,-8.3,-8.8,-9.5,-8.6,-9,-8.4,-9.3,-8.7,
  -9.1,-8.6,-9.4,-8.9,-9.7,-8.8,-9.2,-9.6,-8.7,-9.3,
  -9.5,-9,-9.8,-9.3,-10.1,-9.4,-9.1,-9.9,-9.6,-10.2,
  -9.7,-10.3,-9.5,-10.6,-9.9,-10.2,-9.6,-10.8,-10,-10.4,
  -10.1,-10.7,-9.9,-11,-10.4,-10.8,-10.2,-11.1,-10.6,-10.3,
  -11.2,-10.5,-11.6,-10.9,-11.3,-12.3,-10.8,-11.5,-11.9,-11.1,
  -11.7,-11,-12.1,-11.4,-12.5,-11.3,-11.8,-12.2,-11.5,-12,
  -11.6,-12.4,-11.2,-12,-11.7,-12.6,-11.4,-12.2,-11.9,-12.5,
  -12.1,-11.6,-12.7,-12,-12.4,-11.8,-12.9,-12.3,-11.7,-12.6,
  -12.2,-13,-12.5,-11.9,-12.8,-12.3,-13.1,-12,-12.7,-12.4,
  -13.2,-12.6,-12.9,-13.5,-12.4,-13,-12.7,-13.3,-12.5,-13.8,
  -12.8,-13.4,-12.9,-13.1,-13.6,-12.7,-13.2,-13.9,-12.8,-13.5,
  -13.3,-12.9,-13.7,-14.2,-13,-13.5,-12.8,-13.8,-13.2,-13.6,
  -13.1,-13.9,-13.4,-12.9,-14,-13.3,-13.7,-13.2,-12.8,-13.6,
  -13.5,-14.1,-13.2,-13.8,-14.4,-13.3,-14.6,-13.7,-13.1,-13.9,
  -13.4,-14,-13.6,-14.3,-13.2,-13.8,-14.5,-13.5,-13.1,-14.1,
  -13.7,-13.3,-14.2,-13.6,-14.7,-13.4,-13.9,-13.2,-13.8,-13.5,
  -13.1,-13.6,-12.9,-14,-13.3,-12.8,-13.7,-14.3,-12.7,-13.2,
  -12.3,-11.7,-12.1,-11.5,-11.9,-11.3,-11.8,-11.4,-12,-11.6,
  -11.2,-11.7,-11,-11.5,-10.9,-11.4,-11.1,-10.8,-11.6,-11.2,
  -11,-11.5,-10.7,-11.3,-10.9,-11.6,-10.6,-11.2,-10.8,-11.4,
  -10.9,-11.3,-10.5,-11.1,-10.7
];
const h2Hi = [
  -0.4,-0.7,-0.3,-0.6,-0.5,-0.8,-0.4,-0.6,-0.3,-0.7,
  -0.5,-0.3,-0.8,-0.6,-0.4,-0.7,-0.5,-0.3,-0.6,-0.8,
  -0.4,-0.6,-0.3,-0.5,-0.7,-0.4,-0.8,-0.3,-0.6,-0.5,
  -0.7,-0.4,-0.6,-0.3,-0.8,-0.5,-0.4,-0.7,-0.3,-0.6,
  -0.5,-0.8,-0.4,-0.6,-0.3,-0.7,-0.5,-0.6,-0.4,-0.8,
  -0.3,-0.6,-0.5,-0.7,-0.4,-0.3,-0.8,-0.5,-0.6,-0.4,
  -0.7,-0.3,-0.6,-0.5,-0.8,-0.4,-0.6,-0.3,-0.7,-0.5,
  -0.4,-0.8,-0.5,-0.6,-0.3,-0.7,-0.4,-0.6,-0.5,-0.8,
  -0.6,-0.4,-0.7,-0.3,-0.5,-0.8,-0.4,-0.6,-0.7,-0.3,
  -0.5,-0.6,-0.4,-0.8,-0.3,-0.7,-0.5,-0.6,-0.4,-0.7,
  -0.6,-0.4,-0.8,-0.5,-0.7,-0.3,-0.6,-0.5,-0.8,-0.4,
  -0.7,-0.5,-0.6,-0.4,-0.8,-0.6,-0.3,-0.7,-0.5,-0.6,
  -0.4,-0.8,-0.5,-0.7,-0.6,-0.4,-0.8,-0.5,-0.6,-0.7,
  -0.5,-0.6,-0.8,-0.4,-0.7,-0.5,-0.6,-0.3,-0.8,-0.6,
  -0.7,-0.4,-0.6,-0.8,-0.5,-0.7,-0.4,-0.6,-0.5,-0.8,
  -0.6,-0.8,-0.5,-0.7,-0.4,-0.6,-0.8,-0.5,-0.7,-0.6,
  -0.8,-0.5,-0.7,-0.6,-0.9,-0.5,-0.7,-0.8,-0.6,-0.9,
  -0.6,-0.8,-0.9,-0.7,-0.5,-0.8,-0.6,-0.9,-0.7,-0.8,
  -0.9,-0.7,-0.6,-0.8,-1,-0.7,-0.9,-0.6,-0.8,-1,
  -0.7,-0.9,-0.8,-1,-0.6,-0.9,-0.8,-1.1,-0.7,-0.9,
  -1,-0.8,-0.9,-0.7,-1.1,-0.8,-1,-0.9,-0.7,-1.1,
  -0.8,-1,-0.9,-1.1,-0.8,-0.7,-1,-0.9,-1.2,-0.8,
  -0.9,-1.1,-0.8,-1,-0.9,-1.2,-0.8,-1,-1.1,-0.9,
  -1,-0.8,-1.2,-0.9,-1.1,-0.8,-1,-0.9,-1.1,-1.2,
  -0.9,-1.1,-1,-0.8,-1.2,-1,-0.9,-1.1,-0.8,-1,
  -1.1,-0.9,-1,-1.2,-0.8,-1.1,-1,-0.9,-1.2,-1,
  -0.8,-1,-1.1,-0.9,-1.2,-1,-0.8,-1.1,-0.9,-1,
  -1.2,-0.9,-1,-1.1,-0.8,-1,-1.2,-0.9,-1.1,-1,
  -0.9,-1.1,-0.8,-1,-1.2,-0.9,-1.1,-1,-0.8,-1.1,
  -1,-1.2,-0.9,-1.1,-1,-0.8,-1.2,-1,-0.9,-1.1,
  -1.1,-0.9,-1,-1.2,-0.9,-1.1,-0.8,-1,-1.1,-0.9,
  -1,-0.8,-1.1,-0.9,-1.2,-1,-0.9,-1.1,-0.8,-1,
  -0.9,-1.1,-1,-0.8,-1,-1.2,-0.9,-1,-1.1,-0.8,
  -1,-0.9,-1.1,-1,-0.8,-0.9,-1.1,-1,-0.9,-0.8,
  -0.8,-1,-0.9,-0.7,-1,-0.8,-0.9,-1,-0.7,-0.9,
  -0.8,-0.9,-0.7,-1,-0.8,-0.9,-0.7,-0.8,-1,-0.8,
  -0.7,-0.9,-0.8,-0.7,-0.9
];
const h2Lo = [
  -2.6,-2.3,-2.8,-2.5,-2.7,-2.2,-2.9,-2.4,-2.6,-2.8,
  -2.5,-2.7,-2.3,-2.9,-2.6,-2.4,-2.8,-2.5,-2.7,-2.3,
  -2.8,-2.5,-2.6,-2.2,-2.9,-2.6,-2.4,-2.7,-2.5,-2.8,
  -2.4,-2.7,-2.5,-2.8,-2.3,-2.6,-2.9,-2.4,-2.7,-2.5,
  -2.7,-2.4,-2.8,-2.6,-2.5,-2.9,-2.3,-2.7,-2.6,-2.4,
  -2.8,-2.5,-2.6,-2.4,-2.7,-2.9,-2.5,-2.3,-2.8,-2.6,
  -2.5,-2.8,-2.4,-2.7,-2.6,-2.3,-2.9,-2.5,-2.6,-2.8,
  -2.6,-2.4,-2.7,-2.5,-2.8,-2.6,-2.3,-2.9,-2.5,-2.7,
  -2.4,-2.7,-2.6,-2.8,-2.5,-2.4,-2.7,-2.6,-2.9,-2.5,
  -2.7,-2.5,-2.8,-2.4,-2.6,-2.8,-2.5,-2.7,-2.4,-2.6,
  -2.5,-2.8,-2.6,-2.7,-2.4,-2.9,-2.6,-2.5,-2.8,-2.7,
  -2.8,-2.6,-2.5,-2.9,-2.7,-2.4,-2.8,-2.6,-2.7,-2.5,
  -2.6,-2.7,-2.9,-2.5,-2.8,-2.6,-2.4,-2.8,-2.7,-2.9,
  -2.7,-2.5,-2.8,-2.6,-2.9,-2.7,-2.5,-2.8,-2.6,-2.7,
  -2.9,-2.6,-2.7,-2.8,-2.5,-2.9,-2.7,-2.6,-2.8,-3,
  -2.7,-2.9,-2.6,-3,-2.8,-2.7,-2.9,-2.6,-3,-2.8,
  -3,-2.8,-2.9,-2.7,-3.1,-2.9,-2.8,-3,-2.7,-3.1,
  -2.8,-3,-2.9,-3.1,-2.8,-3,-3.2,-2.9,-3,-2.8,
  -3.1,-2.9,-3,-3.2,-2.9,-3.1,-3,-3.3,-2.9,-3.1,
  -3,-3.2,-3.1,-2.9,-3.3,-3,-3.2,-3.1,-3.4,-3,
  -3.2,-3,-3.3,-3.1,-3.2,-3.4,-3,-3.3,-3.1,-3.2,
  -3.1,-3.3,-3,-3.4,-3.2,-3.1,-3.5,-3.2,-3.3,-3.1,
  -3.4,-3.2,-3.3,-3.1,-3.5,-3.2,-3.4,-3.3,-3.1,-3.5,
  -3.2,-3.4,-3.3,-3.6,-3.2,-3.4,-3.3,-3.5,-3.2,-3.4,
  -3.3,-3.5,-3.2,-3.4,-3.6,-3.3,-3.5,-3.2,-3.4,-3.3,
  -3.5,-3.3,-3.4,-3.2,-3.6,-3.4,-3.3,-3.5,-3.2,-3.4,
  -3.3,-3.6,-3.4,-3.3,-3.5,-3.2,-3.4,-3.6,-3.3,-3.5,
  -3.4,-3.2,-3.5,-3.4,-3.3,-3.6,-3.2,-3.4,-3.5,-3.3,
  -3.5,-3.4,-3.3,-3.6,-3.4,-3.2,-3.5,-3.3,-3.4,-3.6,
  -3.3,-3.5,-3.4,-3.2,-3.6,-3.4,-3.3,-3.5,-3.2,-3.4,
  -3.4,-3.3,-3.6,-3.4,-3.2,-3.5,-3.3,-3.4,-3.6,-3.3,
  -3.5,-3.2,-3.4,-3.3,-3.5,-3.2,-3.4,-3.5,-3.3,-3.2,
  -3.3,-3.4,-3.2,-3.5,-3.3,-3.1,-3.4,-3.2,-3.3,-3.4,
  -3.2,-3.3,-3.1,-3.4,-3.2,-3,-3.3,-3.2,-3.1,-3.3,
  -3.1,-3.2,-3,-3.3,-3.1,-2.9,-3.2,-3,-3.1,-3.2,
  -3,-3.1,-2.9,-3.2,-3,-2.9,-3.1,-3,-2.9,-3.1,
  -3,-2.9,-3.1,-3,-2.9
];

// Hour of day at which each daily level is sampled
const bandHours = [0, 4, 8, 13, 17, 21];   // hi, trough, lo, peak, hi, lo
const batHours = [4, 13];                   // trough, peak

// Axis ticks
const dayTicks = [0, 50, 100, 150, 200, 250, 300, 350];
const netTicks = [0, 20, 40];
const batTicks = [-4, -2, 0, 2, 4];
const phesTicks = [-10, 0, 10, 20, 30];
const h2Ticks = [-10, 0, 10, 20];
const dayRange = [0, 365];

// ---------- Build sampled series ----------
function sampled(levels, hours) {
  const x = [], y = [];
  const n = levels[0].length;
  for (let d = 0; d < n; d++) {
    for (let k = 0; k < levels.length; k++) {
      x.push(d + hours[k] / 24);
      y.push(levels[k][d]);
    }
  }
  return { x, y };
}

const net = sampled([netHi, netTrough, netLo, netPeak, netHi, netLo], bandHours);
const bat = sampled([batTrough, batPeak], batHours);
const phes = sampled([phesHi, phesTrough, phesLo, phesPeak, phesHi, phesLo], bandHours);
const h2 = sampled([h2Hi, h2Trough, h2Lo, h2Peak, h2Hi, h2Lo], bandHours);

const FONT = '"Liberation Serif", "Times New Roman", Times, serif';
const TXT = '#262626';

function dataTrace(s, color, name, xa, ya, show, w) {
  return { type: 'scatter', mode: 'lines', x: s.x, y: s.y, name: name,
    xaxis: xa, yaxis: ya, showlegend: show,
    line: { color: color, width: w }, hoverinfo: 'skip' };
}
function zeroTrace(xa, ya, show) {
  return { type: 'scatter', mode: 'lines', x: dayRange, y: [0, 0],
    name: '<span style="font-size:20px">Zero line</span>',
    xaxis: xa, yaxis: ya, showlegend: show,
    line: { color: '#000000', width: 1.5, dash: '9px,5px' }, hoverinfo: 'skip' };
}

const traces = [
  dataTrace(net, '#0000ff', '<span style="font-size:20px">Net power</span>', 'x', 'y', true, 0.85),
  dataTrace(bat, '#00ff00', 'P_bat', 'x2', 'y2', false, 0.6),
  dataTrace(phes, '#00ffff', 'P_phes', 'x3', 'y3', false, 0.85),
  dataTrace(h2, '#ff00ff', 'P_h2', 'x4', 'y4', false, 0.85),
  zeroTrace('x', 'y', true),
  zeroTrace('x2', 'y2', false),
  zeroTrace('x3', 'y3', false),
  zeroTrace('x4', 'y4', false)
];

const W = 909, H = 829;
const xDom = [87 / W, 900 / W];
function yDom(top, bottom) { return [1 - bottom / H, 1 - top / H]; }

const axisBase = {
  showline: true, linecolor: TXT, linewidth: 1, mirror: 'ticks',
  ticks: 'inside', ticklen: 8, tickwidth: 1, tickcolor: TXT,
  showgrid: true, gridcolor: '#dcdcdc', gridwidth: 1, zeroline: false,
  tickfont: { family: FONT, size: 22, color: TXT },
  fixedrange: true
};
function xAxis(anchor, labels) {
  return Object.assign({}, axisBase, {
    domain: xDom, range: dayRange, anchor: anchor,
    tickvals: dayTicks, ticktext: dayTicks.map(String),
    showticklabels: labels, ticklabelstandoff: 5
  });
}
function yAxis(anchor, dom, range, ticks) {
  return Object.assign({}, axisBase, {
    domain: dom, range: range, anchor: anchor,
    tickvals: ticks, ticktext: ticks.map(v => String(v)),
    ticklabelstandoff: 6
  });
}

const titleFont = { family: FONT, size: 24, color: TXT };
function sub(s) { return '<sub><span style="font-size:143%">' + s + '</span></sub>'; }
const annotations = [
  { text: 'P' + sub('pv') + '+P' + sub('wind') + '-P' + sub('load') + ' (MW)', x: 31 / W, y: 1 - 125 / H },
  { text: 'P' + sub('bat') + ' (MW)', x: 34 / W, y: 1 - 316 / H },
  { text: 'P' + sub('phes') + ' (MW)', x: 24 / W, y: 1 - 507.5 / H },
  { text: 'P' + sub('h2') + ' (MW)', x: 22 / W, y: 1 - 677.7 / H }
].map(a => Object.assign(a, { xref: 'paper', yref: 'paper', xanchor: 'center', yanchor: 'middle',
  textangle: -90, showarrow: false, font: titleFont }));
annotations.push({ text: 'Time (days)', x: 492 / W, y: 1 - 807 / H, xref: 'paper', yref: 'paper',
  xanchor: 'center', yanchor: 'middle', showarrow: false, font: titleFont });

const layout = {
  width: W, height: H,
  margin: { l: 0, r: 0, t: 0, b: 0 },
  paper_bgcolor: '#ffffff', plot_bgcolor: '#ffffff',
  font: { family: FONT, color: TXT },
  showlegend: true,
  legend: {
    x: 175 / W, y: 1 - 30 / H, xanchor: 'left', yanchor: 'top',
    bgcolor: '#ffffff', bordercolor: TXT, borderwidth: 1,
    font: { family: FONT, size: 14, color: '#000000' },
    tracegroupgap: 0, itemwidth: 46
  },
  xaxis: xAxis('y', false),
  xaxis2: xAxis('y2', false),
  xaxis3: xAxis('y3', false),
  xaxis4: xAxis('y4', true),
  yaxis: yAxis('x', yDom(25, 221), [-14.4, 54.8], netTicks),
  yaxis2: yAxis('x2', yDom(228.3, 402.7), [-4, 5], batTicks),
  yaxis3: yAxis('x3', yDom(420.7, 594.3), [-15, 30], phesTicks),
  yaxis4: yAxis('x4', yDom(599.3, 756), [-15, 25], h2Ticks),
  annotations: annotations,
  hovermode: false
};

Plotly.newPlot('chart', traces, layout, { staticPlot: true, displayModeBar: false });
</script>
</body>
</html>
